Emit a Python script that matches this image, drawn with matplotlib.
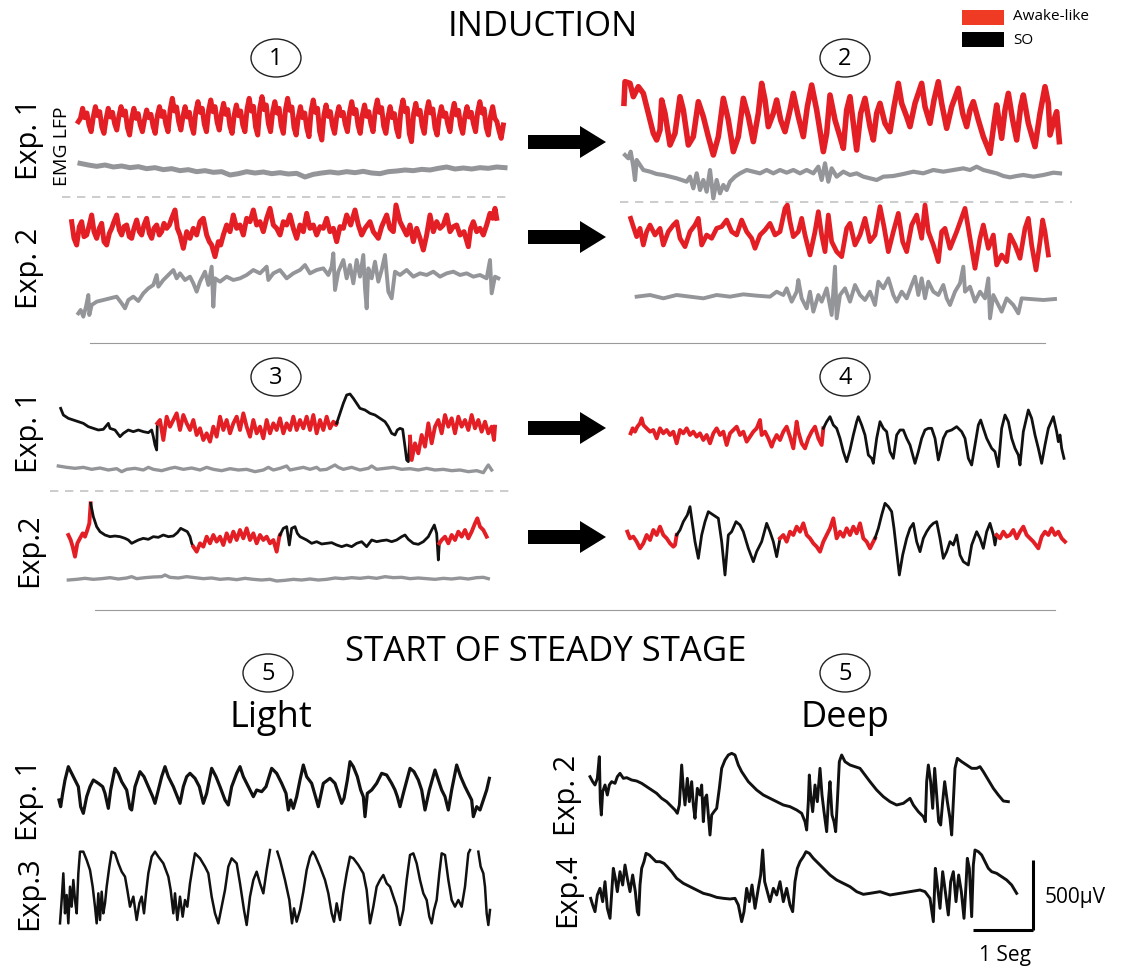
import numpy as np
import matplotlib
matplotlib.use("Agg")
import matplotlib.pyplot as plt
from matplotlib.patches import Ellipse, Rectangle, FancyArrow

plt.rcParams['font.family'] = ['Open Sans', 'DejaVu Sans']

W, H = 1128, 971
RED = '#e31e24'
GREY = '#939598'
BLACK = '#111111'

# scale bar
SCALE_UV = 500
SCALE_S = 1
PX_PER_UV = 70 / 500
PX_PER_S = 60

# ---------------- traces (sample position, amplitude in screen-down units) ----------------
# induction, stage 1, exp 1 : awake-like LFP (evenly sampled) + EMG
s1e1_lfp = [140,
    130, 100, 128, 114, 150, 170, 126, 95, 122, 110, 156, 175, 132, 100, 126, 112, 146, 165,
    124, 95, 120, 108, 158, 180, 130, 100, 130, 116, 150, 170, 134, 105, 128, 118, 154, 175,
    122, 95, 124, 110, 148, 170, 104, 70, 108, 96, 140, 165, 124, 95, 126, 112, 152, 175,
    110, 80, 112, 100, 148, 170, 106, 75, 110, 95, 142, 165, 116, 85, 118, 104, 154, 175,
    120, 90, 122, 108, 150, 170, 102, 70, 108, 94, 156, 180, 98, 65, 104, 90, 146, 170,
    110, 80, 114, 100, 152, 175, 104, 70, 106, 96, 158, 180, 126, 95, 128, 114, 160, 185,
    108, 75, 112, 100, 170, 195, 120, 90, 124, 110, 152, 175, 124, 95, 122, 112, 148, 170,
    112, 80, 116, 104, 152, 175, 120, 90, 124, 110, 146, 170, 106, 75, 112, 98, 154, 175,
    126, 95, 128, 116, 162, 185, 108, 75, 110, 100, 176, 200, 116, 85, 118, 106, 152, 175,
    112, 80, 114, 102, 158, 180, 126, 95, 124, 114, 148, 170, 116, 85, 120, 106, 152, 175,
    124, 95, 126, 112, 146, 170, 110, 80, 114, 102, 158, 180, 124, 95, 130, 140, 168, 190, 150]
s1e1_emg = [265, 270, 274, 270, 276, 273, 278, 275, 281, 278, 284, 281, 287, 284, 290, 287,
    292, 290, 300, 296, 290, 294, 291, 296, 293, 297, 295, 306, 298, 294, 291, 294, 290, 293,
    289, 294, 296, 290, 288, 285, 287, 283, 285, 280, 276, 282, 279, 282, 278, 280, 276, 278]

# induction, stage 2, exp 1
s2e1_lfp = [(42, 100), (45, 35), (60, 40), (70, 80), (85, 50), (100, 70), (110, 110), (120, 150),
    (130, 190), (140, 210), (150, 180), (155, 90), (165, 130), (180, 225), (195, 190), (210, 80),
    (220, 120), (235, 225), (250, 200), (265, 95), (280, 140), (295, 200), (310, 255), (325, 200),
    (340, 85), (355, 150), (370, 245), (385, 200), (400, 85), (415, 140), (430, 215), (445, 130),
    (455, 40), (465, 90), (475, 170), (490, 130), (500, 90), (512, 150), (525, 185), (540, 120),
    (550, 70), (565, 140), (580, 200), (592, 110), (605, 45), (620, 120), (640, 245), (650, 190),
    (660, 75), (675, 150), (690, 200), (700, 235), (710, 120), (720, 80), (730, 160), (740, 240),
    (752, 130), (765, 85), (780, 170), (790, 210), (800, 130), (810, 100), (825, 160), (840, 185),
    (852, 110), (865, 40), (875, 100), (890, 140), (900, 170), (915, 100), (935, 40), (945, 110),
    (960, 160), (972, 90), (985, 35), (995, 100), (1010, 175), (1025, 110), (1045, 55), (1058, 130),
    (1070, 170), (1080, 120), (1090, 95), (1105, 150), (1120, 200), (1140, 250), (1152, 160),
    (1160, 105), (1175, 205), (1185, 120), (1195, 70), (1208, 150), (1220, 210), (1232, 110),
    (1240, 75), (1255, 160), (1275, 230), (1290, 130), (1305, 50), (1315, 100), (1320, 195),
    (1335, 140), (1340, 125), (1348, 215)]
s2e1_emg = [(45, 255), (55, 265), (62, 245), (70, 290), (75, 330), (80, 270), (90, 285), (100, 300),
    (120, 305), (140, 312), (160, 315), (180, 320), (200, 325), (215, 330), (230, 335), (240, 320),
    (250, 355), (260, 310), (270, 360), (280, 330), (290, 365), (300, 300), (310, 385), (320, 330),
    (330, 370), (340, 345), (350, 360), (360, 335), (375, 320), (390, 310), (410, 300), (430, 305),
    (450, 310), (470, 300), (490, 310), (510, 300), (530, 308), (550, 300), (570, 310), (590, 300),
    (610, 310), (625, 290), (635, 330), (645, 280), (655, 335), (665, 295), (680, 320), (700, 305),
    (720, 315), (740, 310), (760, 320), (780, 325), (800, 330), (820, 320), (850, 318), (880, 312),
    (910, 305), (940, 310), (970, 300), (1000, 305), (1030, 300), (1060, 295), (1080, 300),
    (1100, 290), (1120, 300), (1140, 305), (1160, 310), (1180, 318), (1200, 322), (1220, 318),
    (1240, 315), (1270, 320), (1300, 315), (1330, 308), (1350, 310)]

# induction, stage 1, exp 2
s1e2_lfp = [(35, 80), (42, 130), (50, 150), (58, 95), (65, 80), (72, 125), (80, 120), (88, 90),
    (95, 60), (102, 110), (110, 130), (118, 100), (125, 85), (132, 140), (140, 150), (148, 115),
    (155, 100), (162, 80), (170, 60), (178, 105), (185, 120), (192, 95), (200, 90), (208, 125),
    (215, 130), (222, 100), (230, 75), (238, 110), (245, 120), (252, 90), (260, 70), (268, 115),
    (275, 130), (282, 100), (290, 90), (298, 120), (305, 110), (312, 85), (320, 100), (328, 90),
    (335, 70), (345, 45), (352, 100), (360, 120), (370, 160), (380, 110), (390, 130), (400, 100),
    (410, 120), (420, 80), (430, 70), (440, 120), (448, 140), (455, 150), (465, 185), (475, 140),
    (482, 150), (490, 120), (500, 90), (510, 110), (520, 60), (530, 100), (540, 90), (550, 120),
    (560, 70), (570, 80), (580, 45), (590, 90), (600, 80), (610, 110), (620, 70), (630, 40),
    (640, 90), (650, 100), (660, 120), (670, 80), (680, 90), (690, 60), (700, 100), (710, 130),
    (720, 90), (730, 110), (740, 55), (750, 100), (760, 90), (770, 120), (780, 95), (790, 100),
    (800, 70), (810, 110), (820, 100), (830, 140), (840, 95), (850, 100), (860, 60), (872, 90),
    (885, 45), (895, 90), (905, 120), (915, 100), (930, 80), (940, 110), (955, 130), (965, 95),
    (980, 60), (990, 100), (1000, 110), (1008, 30), (1020, 80), (1030, 100), (1040, 120),
    (1050, 90), (1060, 140), (1070, 100), (1080, 130), (1090, 165), (1100, 120), (1110, 60),
    (1120, 110), (1130, 80), (1140, 100), (1150, 90), (1160, 60), (1170, 110), (1180, 95),
    (1190, 90), (1200, 120), (1212, 110), (1225, 155), (1232, 100), (1240, 80), (1250, 110),
    (1260, 100), (1270, 120), (1280, 90), (1290, 55), (1298, 70), (1305, 40), (1310, 70)]
s1e2_emg = [(55, 355), (62, 345), (70, 365), (78, 335), (85, 300), (88, 360), (95, 330), (110, 320),
    (130, 315), (150, 310), (170, 305), (185, 325), (195, 340), (205, 315), (220, 305), (235, 318),
    (250, 295), (265, 280), (280, 270), (290, 240), (295, 275), (310, 255), (325, 240), (340, 225),
    (350, 250), (360, 235), (375, 255), (390, 245), (400, 265), (410, 290), (420, 260), (435, 230),
    (445, 270), (455, 215), (460, 335), (465, 250), (480, 260), (500, 245), (520, 255), (540, 250),
    (560, 240), (580, 225), (600, 235), (620, 215), (625, 255), (640, 235), (660, 225), (680, 250),
    (700, 235), (720, 225), (735, 210), (750, 235), (770, 225), (790, 220), (805, 240), (815, 215),
    (820, 175), (825, 285), (835, 230), (850, 195), (860, 250), (870, 210), (880, 265), (890, 195),
    (900, 245), (910, 180), (915, 280), (920, 340), (925, 220), (935, 250), (945, 200), (955, 260),
    (965, 225), (975, 180), (985, 290), (995, 310), (1005, 230), (1020, 240), (1040, 225),
    (1060, 245), (1080, 235), (1100, 240), (1120, 230), (1140, 245), (1160, 235), (1180, 230),
    (1200, 240), (1220, 235), (1240, 245), (1260, 240), (1280, 250), (1290, 195), (1295, 295),
    (1305, 245), (1315, 250)]

# induction, stage 2, exp 2
s2e2_lfp = [(62, 70), (70, 95), (80, 125), (90, 100), (100, 150), (110, 110), (120, 90), (135, 120),
    (150, 100), (160, 150), (175, 110), (190, 90), (200, 80), (210, 130), (225, 155), (240, 110),
    (255, 90), (265, 70), (275, 150), (290, 120), (305, 130), (320, 100), (335, 95), (350, 75),
    (365, 110), (380, 120), (395, 75), (410, 110), (425, 130), (435, 160), (450, 120), (465, 105),
    (480, 85), (495, 120), (510, 110), (525, 40), (532, 30), (540, 80), (550, 125), (565, 110),
    (575, 70), (585, 120), (600, 180), (615, 110), (625, 50), (635, 120), (645, 170), (655, 60),
    (665, 140), (680, 170), (695, 185), (710, 100), (720, 85), (735, 150), (750, 120), (765, 70),
    (780, 140), (795, 120), (810, 35), (822, 95), (835, 170), (850, 110), (865, 55), (878, 140),
    (890, 170), (905, 90), (920, 60), (935, 130), (945, 30), (955, 110), (970, 150), (985, 200),
    (995, 110), (1005, 100), (1020, 160), (1040, 110), (1065, 40), (1080, 130), (1095, 220),
    (1110, 130), (1120, 90), (1135, 160), (1150, 120), (1160, 210), (1175, 180), (1190, 200),
    (1200, 120), (1215, 150), (1230, 190), (1245, 100), (1255, 70), (1265, 150), (1278, 225),
    (1290, 140), (1298, 75), (1305, 110), (1315, 180)]
s2e2_emg = [(80, 305), (120, 300), (160, 310), (200, 300), (240, 305), (280, 310), (320, 300),
    (360, 305), (400, 298), (440, 302), (480, 305), (500, 290), (520, 300), (530, 280), (545, 320),
    (560, 290), (565, 255), (575, 310), (590, 340), (600, 290), (610, 350), (625, 300), (635, 320),
    (650, 280), (665, 360), (675, 215), (680, 370), (690, 300), (705, 280), (720, 320), (735, 270),
    (750, 300), (765, 315), (780, 290), (795, 330), (805, 260), (820, 280), (835, 250), (850, 300),
    (860, 320), (875, 290), (890, 310), (905, 270), (915, 245), (925, 300), (935, 250), (945, 310),
    (955, 260), (970, 290), (985, 300), (1000, 270), (1010, 310), (1020, 330), (1035, 290),
    (1050, 265), (1060, 215), (1065, 290), (1080, 275), (1095, 320), (1110, 290), (1125, 310),
    (1135, 250), (1140, 370), (1150, 300), (1165, 330), (1175, 350), (1190, 310), (1210, 330),
    (1225, 355), (1235, 310), (1260, 312), (1300, 315), (1335, 312)]

# stage 3 / stage 4 : state switches given as sample positions, first state listed first
s3e1_lfp = [(62, 85), (70, 105), (85, 115), (100, 120), (115, 125), (130, 130), (145, 140),
    (160, 145), (175, 150), (190, 148), (205, 130), (210, 145), (225, 150), (240, 170), (250, 160),
    (265, 150), (280, 155), (295, 150), (310, 155), (325, 158), (335, 150), (340, 170), (345, 195),
    (350, 210), (352, 130), (360, 120), (370, 180), (380, 110), (390, 140), (400, 120), (410, 100),
    (420, 150), (430, 105), (440, 130), (450, 150), (460, 120), (470, 165), (480, 145), (490, 180),
    (500, 160), (510, 185), (520, 140), (530, 170), (540, 110), (550, 150), (560, 120), (570, 160),
    (580, 130), (590, 110), (600, 150), (610, 100), (620, 140), (630, 170), (640, 120), (650, 160),
    (660, 140), (670, 175), (680, 120), (690, 160), (700, 130), (710, 150), (720, 115), (730, 160),
    (740, 130), (750, 150), (760, 110), (770, 150), (780, 120), (790, 145), (800, 110), (810, 150),
    (820, 105), (830, 160), (840, 120), (850, 150), (860, 110), (870, 145), (880, 125), (888, 135),
    (890, 130), (900, 100), (910, 70), (920, 45), (930, 42), (940, 55), (950, 70), (960, 85),
    (975, 90), (990, 100), (1005, 105), (1020, 115), (1035, 125), (1045, 140), (1055, 160),
    (1065, 165), (1072, 150), (1080, 145), (1088, 148), (1095, 200), (1100, 240), (1105, 245),
    (1110, 170), (1115, 240), (1125, 190), (1135, 220), (1145, 165), (1155, 200), (1165, 130),
    (1175, 190), (1185, 140), (1195, 120), (1205, 160), (1215, 105), (1225, 140), (1235, 115),
    (1245, 160), (1255, 110), (1265, 140), (1275, 120), (1285, 150), (1295, 105), (1305, 145),
    (1315, 120), (1325, 155), (1335, 125), (1345, 160), (1355, 140), (1362, 180), (1365, 140)]
s3e1_states = ['SO', 'Awake-like', 'SO', 'Awake-like']
s3e1_switch = [351, 889, 1106]
s3e1_emg = [(55, 258), (80, 262), (105, 265), (130, 262), (155, 268), (180, 264), (205, 270),
    (230, 266), (245, 275), (260, 268), (285, 265), (310, 270), (325, 262), (340, 268), (365, 272),
    (390, 265), (405, 262), (430, 268), (455, 264), (480, 270), (500, 262), (520, 268), (545, 272),
    (570, 266), (595, 270), (620, 268), (645, 275), (670, 270), (685, 262), (700, 270), (720, 265),
    (740, 258), (750, 270), (770, 266), (790, 262), (810, 268), (830, 262), (840, 270), (860, 268),
    (885, 255), (895, 262), (910, 268), (935, 262), (960, 270), (985, 265), (995, 258), (1010, 268),
    (1035, 265), (1060, 262), (1085, 268), (1110, 266), (1135, 270), (1160, 265), (1185, 270),
    (1210, 268), (1235, 272), (1260, 270), (1285, 275), (1310, 272), (1330, 278), (1340, 262),
    (1345, 255), (1355, 270)]

s3e2_lfp = [(85, 465), (92, 480), (98, 500), (105, 530), (112, 490), (120, 475), (128, 460),
    (135, 470), (142, 450), (148, 430), (152, 370), (160, 410), (170, 440), (180, 455), (195, 465),
    (210, 470), (225, 468), (240, 470), (255, 475), (265, 480), (275, 490), (285, 485), (295, 480),
    (310, 475), (325, 478), (340, 470), (355, 472), (370, 465), (385, 470), (400, 468), (412, 458),
    (422, 445), (432, 450), (442, 455), (450, 470), (455, 490), (460, 500), (470, 515), (480, 490),
    (490, 500), (500, 470), (510, 490), (520, 465), (530, 485), (540, 470), (550, 495), (560, 460),
    (570, 485), (580, 455), (590, 480), (600, 450), (610, 475), (620, 445), (630, 480), (640, 460),
    (650, 490), (660, 465), (670, 480), (680, 470), (690, 490), (700, 480), (710, 515), (718, 470),
    (720, 465), (730, 445), (740, 440), (748, 495), (755, 445), (765, 440), (772, 460), (780, 470),
    (790, 475), (800, 480), (815, 490), (830, 485), (845, 492), (860, 490), (875, 488), (890, 495),
    (905, 500), (920, 495), (935, 500), (950, 490), (965, 485), (980, 500), (995, 480), (1010, 485),
    (1025, 482), (1040, 480), (1055, 485), (1070, 480), (1085, 470), (1095, 465), (1105, 478),
    (1120, 490), (1135, 493), (1150, 485), (1165, 470), (1175, 450), (1183, 435), (1190, 460),
    (1195, 540), (1198, 490), (1205, 480), (1215, 470), (1225, 490), (1235, 465), (1245, 480),
    (1255, 455), (1265, 470), (1275, 450), (1285, 475), (1295, 455), (1305, 430), (1312, 415),
    (1320, 440), (1330, 450), (1340, 470)]
s3e2_states = ['Awake-like', 'SO', 'Awake-like', 'SO', 'Awake-like']
s3e2_switch = [151, 456, 719, 1196]
s3e2_emg = [(85, 600), (110, 598), (135, 595), (160, 598), (185, 596), (210, 593), (235, 597),
    (260, 594), (275, 590), (290, 596), (315, 593), (340, 591), (365, 590), (375, 585), (390, 592),
    (415, 594), (440, 590), (465, 593), (490, 596), (515, 594), (540, 598), (565, 596), (590, 599),
    (615, 595), (640, 598), (665, 600), (690, 598), (710, 603), (735, 601), (760, 598), (785, 600),
    (810, 597), (835, 600), (860, 598), (885, 594), (910, 596), (935, 593), (960, 595), (985, 592),
    (1010, 595), (1035, 590), (1060, 593), (1085, 592), (1110, 596), (1135, 594), (1160, 596),
    (1185, 598), (1210, 595), (1235, 597), (1260, 594), (1285, 597), (1310, 593), (1330, 592),
    (1345, 596)]

s4e1_lfp = [(62, 115), (68, 100), (75, 110), (82, 95), (90, 85), (95, 70), (100, 90), (110, 100),
    (120, 110), (130, 105), (140, 130), (150, 100), (160, 115), (170, 105), (180, 120), (190, 110),
    (200, 145), (210, 105), (220, 115), (230, 100), (240, 120), (250, 110), (260, 125), (270, 115),
    (280, 135), (290, 120), (300, 145), (310, 115), (320, 100), (330, 120), (340, 110), (350, 150),
    (360, 115), (370, 105), (380, 95), (390, 120), (400, 110), (410, 140), (420, 125), (430, 110),
    (440, 100), (450, 75), (455, 120), (465, 110), (475, 130), (485, 155), (490, 140), (500, 120),
    (510, 135), (520, 110), (530, 95), (540, 125), (550, 160), (560, 80), (565, 110), (575, 145),
    (585, 160), (595, 130), (605, 110), (615, 95), (625, 130), (635, 150), (640, 100), (650, 80),
    (660, 65), (670, 90), (680, 100), (690, 130), (700, 170), (710, 200), (720, 165), (730, 120),
    (740, 80), (745, 65), (755, 90), (765, 120), (775, 180), (785, 190), (790, 205), (800, 130),
    (810, 80), (820, 100), (830, 110), (840, 170), (850, 190), (860, 120), (870, 105), (880, 105),
    (890, 130), (900, 150), (915, 205), (925, 170), (935, 130), (945, 105), (955, 100), (965, 100),
    (975, 130), (985, 195), (990, 175), (1000, 130), (1010, 110), (1025, 105), (1040, 95),
    (1055, 110), (1065, 130), (1075, 190), (1085, 210), (1095, 150), (1105, 90), (1112, 75),
    (1120, 100), (1130, 130), (1145, 160), (1155, 170), (1165, 215), (1175, 100), (1185, 60),
    (1195, 80), (1205, 130), (1215, 160), (1225, 180), (1230, 210), (1240, 110), (1255, 45),
    (1265, 70), (1275, 120), (1285, 160), (1295, 205), (1305, 150), (1315, 100), (1330, 65),
    (1340, 110), (1345, 140), (1350, 120), (1355, 160), (1362, 190)]
s4e1_states = ['Awake-like', 'SO']
s4e1_switch = [636]

s4e2_lfp = [(52, 410), (60, 430), (70, 425), (80, 440), (90, 460), (100, 445), (110, 420),
    (120, 435), (130, 405), (140, 420), (150, 395), (160, 420), (170, 430), (180, 445), (190, 455),
    (195, 450), (200, 420), (210, 405), (220, 380), (232, 360), (240, 335), (245, 370), (255, 440),
    (265, 490), (275, 420), (285, 380), (295, 350), (310, 360), (325, 370), (335, 440), (345, 540),
    (355, 420), (365, 410), (378, 380), (390, 390), (400, 410), (415, 460), (430, 500), (440, 470),
    (455, 440), (470, 385), (480, 410), (490, 440), (500, 485), (510, 430), (520, 420), (530, 440),
    (540, 410), (550, 420), (560, 395), (570, 410), (580, 385), (590, 420), (600, 430), (610, 445),
    (620, 455), (630, 470), (640, 440), (650, 420), (660, 400), (670, 370), (680, 430), (690, 410),
    (700, 425), (710, 400), (720, 420), (730, 395), (740, 415), (750, 385), (760, 430), (770, 440),
    (780, 460), (790, 440), (795, 430), (805, 400), (815, 360), (825, 325), (835, 335), (845, 350),
    (852, 400), (860, 470), (868, 540), (878, 480), (890, 430), (900, 400), (910, 385), (920, 440),
    (930, 470), (940, 430), (950, 410), (960, 395), (970, 385), (980, 380), (990, 430), (1000, 490),
    (1010, 470), (1020, 440), (1030, 450), (1040, 420), (1050, 480), (1060, 500), (1075, 510),
    (1085, 450), (1100, 410), (1110, 430), (1120, 460), (1130, 410), (1140, 385), (1150, 420),
    (1155, 450), (1160, 420), (1170, 430), (1180, 410), (1190, 425), (1200, 420), (1210, 405),
    (1220, 430), (1230, 410), (1240, 395), (1250, 420), (1260, 430), (1270, 440), (1285, 460),
    (1295, 425), (1305, 410), (1315, 420), (1325, 400), (1335, 420), (1345, 410), (1355, 430),
    (1365, 440)]
s4e2_states = ['Awake-like', 'SO', 'Awake-like', 'SO', 'Awake-like']
s4e2_switch = [196, 501, 791, 1156]

# steady stage 5, light
light_e1 = [(57, 180), (62, 200), (68, 160), (75, 120), (85, 80), (95, 100), (105, 120), (115, 140),
    (122, 200), (130, 220), (140, 170), (150, 140), (160, 120), (175, 130), (188, 140), (195, 160),
    (205, 205), (212, 150), (225, 85), (235, 100), (245, 125), (260, 150), (270, 205), (275, 210),
    (285, 140), (300, 95), (312, 110), (325, 140), (338, 170), (345, 190), (355, 150), (365, 110),
    (375, 80), (385, 110), (400, 140), (412, 170), (420, 190), (430, 140), (440, 110), (450, 100),
    (465, 115), (478, 140), (490, 190), (500, 160), (515, 85), (528, 110), (540, 140), (555, 180),
    (565, 195), (575, 140), (590, 100), (600, 80), (610, 110), (625, 140), (640, 170), (650, 150),
    (665, 155), (678, 140), (695, 85), (710, 100), (725, 130), (738, 160), (745, 210), (752, 180),
    (760, 205), (770, 170), (780, 120), (790, 75), (800, 110), (815, 130), (828, 175), (835, 200),
    (850, 130), (870, 115), (885, 130), (895, 160), (905, 190), (912, 175), (922, 120), (930, 65),
    (940, 80), (952, 110), (962, 150), (970, 170), (975, 230), (982, 160), (995, 150), (1010, 130),
    (1025, 100), (1040, 105), (1055, 130), (1065, 150), (1072, 170), (1080, 200), (1090, 160),
    (1110, 85), (1122, 95), (1135, 120), (1145, 150), (1155, 210), (1168, 150), (1185, 90),
    (1195, 120), (1205, 150), (1215, 170), (1225, 210), (1235, 150), (1250, 75), (1262, 110),
    (1275, 140), (1285, 160), (1295, 180), (1300, 230), (1310, 200), (1320, 210), (1330, 180),
    (1340, 150), (1348, 115)]
light_e3 = [(60, 550), (65, 480), (70, 400), (75, 520), (80, 465), (85, 550), (90, 440), (95, 500),
    (100, 420), (105, 480), (110, 520), (115, 400), (120, 335), (130, 335), (140, 360), (150, 390),
    (158, 440), (165, 500), (170, 550), (175, 460), (180, 540), (185, 455), (190, 520), (195, 490),
    (200, 440), (208, 380), (215, 335), (225, 340), (235, 370), (245, 395), (255, 410), (262, 450),
    (270, 500), (280, 470), (290, 540), (298, 490), (305, 470), (312, 520), (318, 460), (325, 400),
    (335, 350), (345, 335), (355, 350), (370, 370), (385, 410), (392, 450), (400, 520), (405, 460),
    (412, 540), (420, 470), (428, 530), (435, 480), (442, 500), (450, 430), (458, 380), (465, 340),
    (480, 355), (495, 380), (505, 400), (515, 470), (525, 520), (535, 550), (545, 500), (555, 450),
    (565, 380), (575, 355), (590, 370), (600, 430), (612, 510), (620, 555), (630, 470), (640, 420),
    (650, 395), (660, 430), (670, 460), (680, 390), (690, 330), (700, np.nan), (712, 335), (720, 360),
    (735, 420), (748, 480), (756, 550), (762, 505), (770, 545), (780, 510), (790, 455), (800, 390),
    (810, 350), (818, 335), (825, 345), (840, 380), (855, 420), (865, 460), (875, 520), (882, 545),
    (890, 490), (900, 540), (910, 460), (920, 400), (930, 350), (940, 355), (955, 375), (970, 400),
    (980, 450), (990, 550), (1000, 500), (1010, 440), (1020, 420), (1030, 405), (1040, 430),
    (1050, 440), (1060, 470), (1070, 500), (1080, 555), (1090, 510), (1100, 420), (1110, 345),
    (1120, 340), (1130, 370), (1140, 420), (1150, 460), (1160, 480), (1168, 530), (1175, 550),
    (1182, 510), (1190, 480), (1198, 400), (1205, 340), (1215, 345), (1225, 420), (1235, 480),
    (1245, 500), (1255, 480), (1265, 500), (1275, 440), (1285, 340), (1290, 330), (1302, np.nan),
    (1315, 335), (1322, 380), (1330, 400), (1335, 440), (1340, 520), (1345, 555), (1350, 510)]

# steady stage 5, deep
deep_e2 = [(60, 125), (68, 140), (75, 150), (82, 130), (88, 65), (91, 200), (94, 240), (98, 170),
    (105, 150), (112, 180), (118, 150), (125, 140), (135, 145), (142, 125), (150, 115), (160, 130),
    (170, 128), (185, 135), (200, 138), (215, 145), (230, 155), (245, 165), (260, 175), (275, 190),
    (290, 200), (305, 215), (315, 225), (322, 235), (328, 210), (335, 90), (340, 160), (345, 210),
    (352, 130), (358, 200), (365, 140), (370, 210), (375, 250), (382, 160), (390, 180), (395, 150),
    (400, 260), (405, 190), (410, 180), (415, 240), (420, 300), (425, 240), (432, 230), (440, 220),
    (448, 160), (455, 100), (465, 75), (475, 60), (485, 55), (495, 60), (505, 90), (515, 110),
    (525, 125), (535, 140), (545, 150), (560, 165), (580, 180), (600, 190), (620, 200), (640, 210),
    (660, 215), (680, 225), (695, 235), (705, 260), (710, 285), (715, 200), (718, 120), (722, 180),
    (728, 230), (735, 150), (742, 200), (750, 100), (756, 180), (762, 230), (770, 290), (775, 200),
    (780, 140), (786, 240), (792, 260), (797, 290), (802, 200), (808, 80), (815, 60), (825, 80),
    (840, 90), (855, 95), (870, 100), (885, 120), (900, 140), (920, 165), (940, 185), (960, 200),
    (980, 210), (1000, 205), (1020, 190), (1030, 210), (1045, 230), (1060, 245), (1066, 260),
    (1070, 140), (1075, 90), (1082, 140), (1088, 220), (1094, 100), (1100, 180), (1106, 260),
    (1112, 270), (1118, 200), (1124, 140), (1132, 200), (1140, 250), (1145, 300), (1150, 200),
    (1155, 100), (1162, 70), (1175, 80), (1190, 90), (1205, 100), (1220, 100), (1230, 95),
    (1240, 110), (1255, 135), (1270, 160), (1285, 180), (1300, 198), (1315, 200)]
deep_e4 = [(62, 490), (68, 510), (75, 530), (82, 480), (90, 460), (98, 500), (105, 440), (112, 520),
    (120, 550), (126, 460), (130, 400), (136, 430), (142, 470), (150, 410), (158, 450), (165, 390),
    (172, 430), (180, 470), (188, 420), (196, 470), (202, 530), (206, 540), (210, 450), (215, 400),
    (222, 380), (228, 355), (238, 360), (248, 370), (258, 380), (270, 380), (282, 385), (292, 395),
    (305, 410), (320, 430), (340, 445), (360, 455), (380, 465), (400, 475), (420, 480), (440, 487),
    (460, 490), (480, 492), (495, 490), (505, 510), (515, 560), (522, 530), (530, 460), (538, 500),
    (546, 450), (555, 520), (565, 460), (572, 420), (578, 345), (584, 440), (592, 470), (600, 500),
    (610, 460), (620, 480), (630, 440), (640, 500), (650, 460), (660, 510), (668, 530), (675, 440),
    (682, 400), (690, 380), (700, 365), (708, 350), (718, 355), (730, 370), (745, 385), (760, 400),
    (780, 420), (800, 435), (820, 445), (840, 455), (860, 470), (880, 478), (900, 475), (930, 470),
    (960, 480), (990, 475), (1020, 470), (1050, 465), (1065, 470), (1080, 490), (1090, 560),
    (1096, 400), (1102, 450), (1110, 520), (1118, 410), (1126, 470), (1135, 540), (1142, 440),
    (1150, 410), (1158, 500), (1166, 420), (1174, 470), (1182, 550), (1188, 450), (1192, 370),
    (1198, 400), (1205, 545), (1210, 390), (1215, 345), (1225, 350), (1235, 360), (1245, 380),
    (1255, 400), (1265, 410), (1280, 415), (1295, 425), (1310, 435), (1325, 450), (1340, 475)]

STATE_COLOR = {'Awake-like': RED, 'SO': BLACK}
STATE_LW = {'Awake-like': 2.8, 'SO': 2.0}

fig = plt.figure(figsize=(W / 100, H / 100), dpi=100)
bg = fig.add_axes([0, 0, 1, 1])
bg.set_xlim(0, W)
bg.set_ylim(H, 0)
bg.axis('off')


def panel(x, y, w, h):
    # axes over a pixel box, sampled 3 units per pixel
    ax = fig.add_axes([x / W, 1 - (y + h) / H, w / W, h / H])
    ax.set_xlim(0, w * 3)
    ax.set_ylim(h * 3, 0)
    ax.axis('off')
    return ax


def draw(ax, pts, color, lw):
    t, v = np.array(pts, dtype=float).T
    ax.plot(t, v, color=color, lw=lw, solid_joinstyle='round')


def draw_states(ax, pts, states, switch):
    t, v = np.array(pts, dtype=float).T
    edges = [0] + [int(np.searchsorted(t, s)) for s in switch] + [len(t)]
    for k, st in enumerate(states):
        a, b = edges[k], min(edges[k + 1] + 1, len(t))
        ax.plot(t[a:b], v[a:b], color=STATE_COLOR[st], lw=STATE_LW[st],
                solid_joinstyle='round')


# induction stage 1 / 2
a1 = panel(60, 75, 460, 125)
a1.plot(np.linspace(55, 1330, len(s1e1_lfp)), s1e1_lfp, color=RED, lw=3.6,
        solid_joinstyle='round')
a1.plot(np.linspace(60, 1335, len(s1e1_emg)), s1e1_emg, color=GREY, lw=3.6)

a2 = panel(610, 70, 470, 135)
draw(a2, s2e1_lfp, RED, 4.0)
draw(a2, s2e1_emg, GREY, 3.0)

a3 = panel(60, 195, 460, 135)
draw(a3, s1e2_lfp, RED, 3.6)
draw(a3, s1e2_emg, GREY, 2.8)

a4 = panel(610, 195, 470, 135)
draw(a4, s2e2_lfp, RED, 3.4)
draw(a4, s2e2_emg, GREY, 2.8)

# stages 3 / 4
a5 = panel(40, 380, 470, 210)
draw_states(a5, s3e1_lfp, s3e1_states, s3e1_switch)
draw(a5, s3e1_emg, GREY, 2.4)
draw_states(a5, s3e2_lfp, s3e2_states, s3e2_switch)
draw(a5, s3e2_emg, GREY, 2.4)

a6 = panel(610, 395, 470, 190)
draw_states(a6, s4e1_lfp, s4e1_states, s4e1_switch)
draw_states(a6, s4e2_lfp, s4e2_states, s4e2_switch)

# steady stage
a7 = panel(40, 740, 470, 200)
draw(a7, light_e1, BLACK, 2.3)
draw(a7, light_e3, BLACK, 1.8)

a8 = panel(570, 735, 480, 200)
draw(a8, deep_e2, BLACK, 2.1)
draw(a8, deep_e4, BLACK, 2.1)

# titles
bg.text(543, 27, 'INDUCTION', fontsize=25, ha='center', va='center')
bg.text(546, 652, 'START OF STEADY STAGE', fontsize=25, ha='center', va='center')
bg.text(271, 718, 'Light', fontsize=26, ha='center', va='center')
bg.text(845, 718, 'Deep', fontsize=26, ha='center', va='center')

for cx, cy, lab in [(276, 58, '1'), (845, 58, '2'), (276, 377, '3'), (845, 377, '4'),
                    (268, 673, '5'), (845, 673, '5')]:
    bg.add_patch(Ellipse((cx, cy), 50, 38, fill=False, ec='#222222', lw=1.0))
    bg.text(cx, cy + 1, lab, fontsize=17, ha='center', va='center')

# row labels
for x, y, lab in [(30, 139, 'Exp. 1'), (30, 268, 'Exp. 2'), (30, 432, 'Exp. 1'),
                  (30, 550, 'Exp.2'), (30, 800, 'Exp. 1'), (30, 893, 'Exp.3'),
                  (568, 795, 'Exp. 2'), (568, 890, 'Exp.4')]:
    bg.text(x, y, lab, fontsize=21, rotation=90, ha='center', va='center')
bg.text(62, 146, 'EMG LFP', fontsize=14, rotation=90, ha='center', va='center')

# arrows between stages
for y in [142, 237, 428, 537]:
    bg.add_patch(FancyArrow(528, y, 52, 0, width=14, head_width=32, head_length=26,
                            length_includes_head=False, color='black', lw=0))

# separators
bg.plot([90, 1045], [343, 343], color='#9a9a9a', lw=0.8)
bg.plot([95, 1055], [610, 610], color='#9a9a9a', lw=0.8)
for x0, x1, y in [(62, 512, 197), (620, 1072, 202), (50, 510, 491)]:
    bg.plot([x0, x1], [y, y], color='#c4c4c4', lw=1.2, dashes=(5, 4))

# legend
bg.add_patch(Rectangle((962, 10), 42, 15, color='#ef3b24', lw=0))
bg.add_patch(Rectangle((962, 32), 42, 15, color='black', lw=0))
bg.text(1013, 17, 'Awake-like', fontsize=11, va='center')
bg.text(1013, 40, 'SO', fontsize=11, va='center')

# scale bar
sx, sy = 1033, 930
bg.plot([sx, sx], [sy, sy - SCALE_UV * PX_PER_UV], color='black', lw=2.2, solid_capstyle='butt')
bg.plot([sx - SCALE_S * PX_PER_S, sx], [sy, sy], color='black', lw=2.2, solid_capstyle='butt')
bg.text(1045, 898, f'{SCALE_UV}µV', fontsize=15, va='center')
bg.text(1005, 955, f'{SCALE_S} Seg', fontsize=15, ha='center', va='center')

fig.savefig('out.png', dpi=100)
